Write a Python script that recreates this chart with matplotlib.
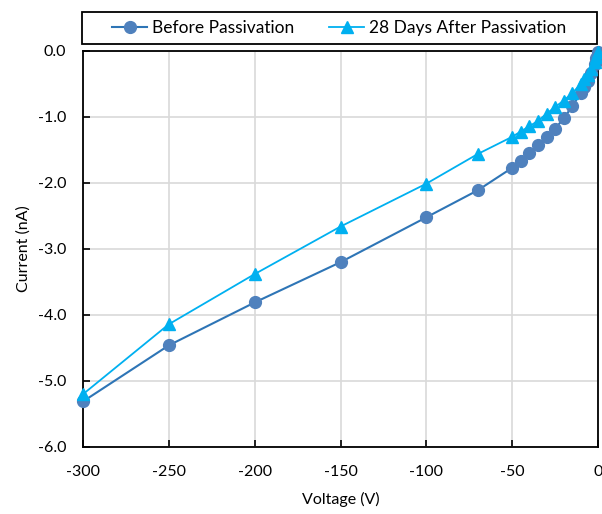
import matplotlib
matplotlib.use("Agg")
import matplotlib.pyplot as plt
from matplotlib.patches import Rectangle

voltage = [-300, -250, -200, -150, -100, -70, -50, -45, -40, -35, -30, -25, -20, -15, -10, -8, -6, -4, -2, -1, 0]
before = [-5.31, -4.46, -3.81, -3.20, -2.52, -2.11, -1.77, -1.66, -1.55, -1.43, -1.31, -1.18, -1.02, -0.84,
          -0.63, -0.54, -0.45, -0.34, -0.20, -0.11, -0.02]
after = [-5.20, -4.14, -3.38, -2.66, -2.01, -1.56, -1.30, -1.22, -1.14, -1.06, -0.95, -0.85, -0.75, -0.64,
         -0.50, -0.43, -0.36, -0.27, -0.16, -0.09, -0.01]
xticks = [-300, -250, -200, -150, -100, -50, 0]
yticks = [0.0, -1.0, -2.0, -3.0, -4.0, -5.0, -6.0]

plt.rcParams['font.family'] = ['Lato', 'DejaVu Sans']

fig = plt.figure(figsize=(6.02, 5.14), dpi=100)
ax = fig.add_axes([83/602, 1-447/514, 515/602, 396/514])

ax.plot(voltage, before, color='#2E75B6', lw=1.5, marker='o', ms=8.5,
        mfc='#4F81BD', mec='#4F81BD', label='Before Passivation', clip_on=False, zorder=3)
ax.plot(voltage, after, color='#00B0F0', lw=1.3, marker='^', ms=8,
        mfc='#00B0F0', mec='#00B0F0', label='28 Days After Passivation', clip_on=False, zorder=4)

ax.set_xlim(-300, 0)
ax.set_ylim(-6.0, 0.0)
ax.set_xticks(xticks)
ax.set_yticks(yticks)
ax.set_xticklabels([f"{t:d}" for t in xticks])
ax.set_yticklabels([f"{t:.1f}" for t in yticks])
ax.grid(True, color='#D9D9D9', lw=1.2)
ax.set_axisbelow(True)
ax.tick_params(direction='in', length=5, width=1.2, labelsize=11.5, colors='black')
ax.tick_params(axis='x', pad=13)
ax.tick_params(axis='y', pad=12)
for s in ax.spines.values():
    s.set_linewidth(1.3)
    s.set_color('black')

ax.set_xlabel('Voltage (V)', fontsize=11.5, labelpad=9)
ax.set_ylabel('Current (nA)', fontsize=11.5, labelpad=5)

# legend box
fig.patches.append(Rectangle((82/602, 1-44/514), 515/602, 32/514, transform=fig.transFigure,
                             fill=False, ec='black', lw=1.3))
h, l = ax.get_legend_handles_labels()
fig.legend(h, l, loc='center', bbox_to_anchor=(339.5/602, 1-28/514), ncol=2, frameon=False,
           fontsize=12.5, handlelength=2.0, columnspacing=2.0, handletextpad=0.3, borderaxespad=0)

fig.savefig('out.png', dpi=100)
